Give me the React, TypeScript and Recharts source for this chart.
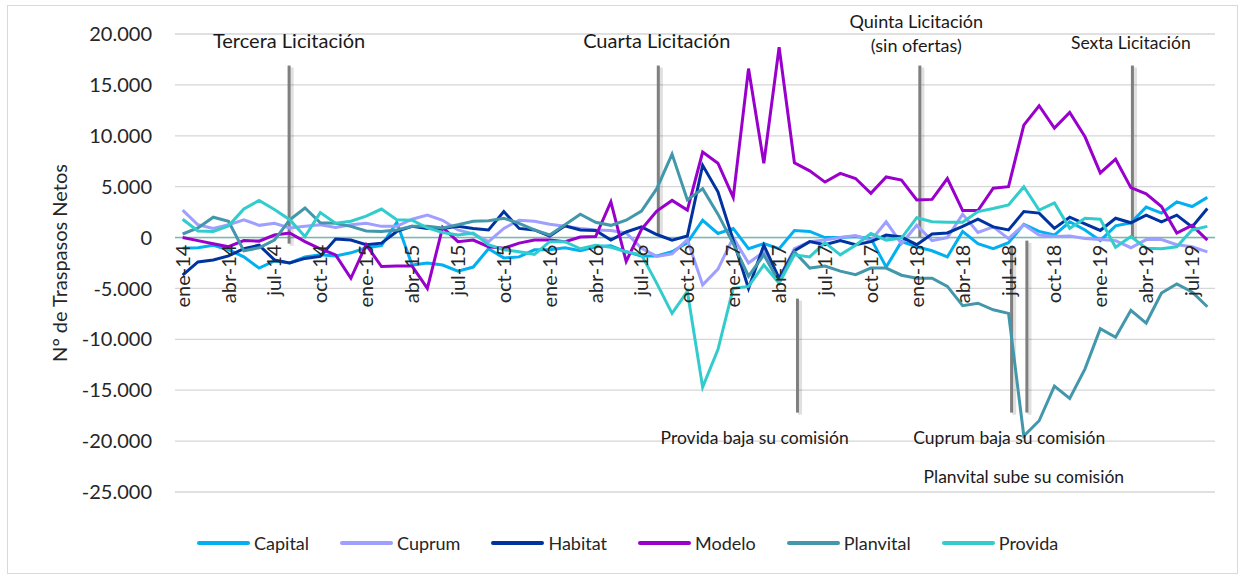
import React from "react";
import {
  LineChart,
  Line,
  XAxis,
  YAxis,
  CartesianGrid,
  ReferenceLine,
  ReferenceDot,
  Legend,
} from "recharts";

const CATEGORIES = [
  "ene-14", "feb-14", "mar-14", "abr-14", "may-14", "jun-14", "jul-14", "ago-14", "sep-14", "oct-14", "nov-14", "dic-14",
  "ene-15", "feb-15", "mar-15", "abr-15", "may-15", "jun-15", "jul-15", "ago-15", "sep-15", "oct-15", "nov-15", "dic-15",
  "ene-16", "feb-16", "mar-16", "abr-16", "may-16", "jun-16", "jul-16", "ago-16", "sep-16", "oct-16", "nov-16", "dic-16",
  "ene-17", "feb-17", "mar-17", "abr-17", "may-17", "jun-17", "jul-17", "ago-17", "sep-17", "oct-17", "nov-17", "dic-17",
  "ene-18", "feb-18", "mar-18", "abr-18", "may-18", "jun-18", "jul-18", "ago-18", "sep-18", "oct-18", "nov-18", "dic-18",
  "ene-19", "feb-19", "mar-19", "abr-19", "may-19", "jun-19", "jul-19", "ago-19",
];

const capital = [
  -1050, -1000, -750, -1200, -1900, -3000, -2300, -2500, -1900, -1700, -1800, -1500,
  -1000, -800, 1500, -2700, -2500, -2700, -3300, -2900, -1100, -2000, -1900, -1200,
  -1200, -1000, -1300, -900, -800, -1400, -1800, -1800, -1400, -500, 1700, 400,
  900, -1100, -600, -1100, 700, 600, 0, 0, 100, -100, -2900, -400,
  -900, -1300, -1900, 600, -600, -1100, -500, 1300, 600, 250, 1550, 750,
  -300, 1150, 1450, 3000, 2400, 3500, 3050, 3950,
];

const cuprum = [
  2700, 1250, 900, 1250, 1750, 1200, 1400, 950, 1100, 1250, 1000, 1250,
  1400, 1100, 1100, 1800, 2200, 1700, 750, 350, -400, 900, 1700, 1600,
  1300, 1100, 900, 750, 700, 450, -1050, -1850, -1600, -200, -4650, -3100,
  0, -2500, -1400, -4000, -1100, -400, -250, 0, 200, -300, 1550, -600,
  1200, -300, 0, 2300, 500, 1050, -100, 1250, 250, 100, 150, -100,
  -200, -300, -1000, -200, -200, -700, -900, -1400,
];

const habitat = [
  -3700, -2400, -2200, -1800, -1100, -750, -2200, -2500, -2050, -1850, -150, -250,
  -700, -550, 600, 1100, 900, 900, 1100, 900, 750, 2550, 900, 750,
  150, 1150, 750, 700, -250, 550, 1050, 300, -250, 150, 7100, 4500,
  -250, -5000, -750, -4000, -1300, -400, -700, -300, -700, -400, 250, 50,
  -700, 350, 450, 1100, 1800, 1050, 750, 2550, 2400, 900, 2000, 1350,
  700, 1900, 1450, 2200, 1550, 2200, 1050, 2850,
];

const modelo = [
  0, -300, -600, -900, -300, -350, 250, 450, -400, -1100, -1700, -4000,
  -700, -2850, -2800, -2800, -5000, 1000, -400, -250, -900, -1050, -550, -250,
  -250, -400, 50, 100, 3500, -2350, 800, 2600, 3650, 2700, 8400, 7300,
  3950, 16600, 7300, 18700, 7350, 6550, 5450, 6300, 5800, 4350, 5950, 5650,
  3700, 3750, 5800, 2650, 2650, 4850, 5000, 11050, 12950, 10750, 12300, 9900,
  6350, 7700, 4900, 4300, 3050, 450, 1200, -250,
];

const planvital = [
  350, 950, 2000, 1600, -1300, -1000, -250, 1750, 2900, 1450, 1400, 1100,
  650, 600, 750, 1100, 1100, 950, 1250, 1600, 1650, 1900, 1400, 750,
  250, 1250, 2300, 1500, 1200, 1700, 2600, 4800, 8200, 3700, 4800, 2300,
  -600, -3800, -1700, -4400, -1400, -3000, -2800, -3300, -3650, -3000, -3000, -3700,
  -4000, -4000, -4800, -6700, -6450, -7100, -7450, -19500, -18000, -14600, -15800, -12900,
  -8950, -9800, -7150, -8400, -5450, -4550, -5350, -6800,
];

const provida = [
  1800, 650, 600, 1150, 2800, 3650, 2750, 1750, 100, 2450, 1400, 1600,
  2100, 2800, 1750, 1700, 950, 500, 250, 450, -700, -1200, -1400, -1650,
  -400, -400, -1100, -750, -950, -1400, -1700, -4500, -7450, -5300, -14700, -11000,
  -5000, -4800, -2700, -4500, -1700, -1900, -500, -1700, -750, 400, -250, -50,
  1950, 1550, 1500, 1500, 2550, 2850, 3200, 5000, 2700, 3400, 900, 1900,
  1800, -950, 100, -1050, -1100, -900, 750, 1100,
];

const Y_TICKS = [20000, 15000, 10000, 5000, 0, -5000, -10000, -15000, -20000, -25000];
const Y_MIN = -25000;
const Y_MAX = 20000;

const SERIES = [
  { key: "capital", name: "Capital", color: "#00b0f0" },
  { key: "cuprum", name: "Cuprum", color: "#9f9fff" },
  { key: "habitat", name: "Habitat", color: "#0033a0" },
  { key: "modelo", name: "Modelo", color: "#9900cc" },
  { key: "planvital", name: "Planvital", color: "#4397aa" },
  { key: "provida", name: "Provida", color: "#33cccc" },
];

// event annotations (x in month index, y in chart units)
const MARKERS = [
  { x: 6.96, y1: 16900, y2: -600 },
  { x: 31.1, y1: 16900, y2: 300 },
  { x: 48.2, y1: 16900, y2: 0 },
  { x: 62.1, y1: 16900, y2: 0 },
  { x: 40.2, y1: -6000, y2: -17200 },
  { x: 54.2, y1: -800, y2: -17200 },
  { x: 55.2, y1: -300, y2: -17200 },
];

const NOTES = [
  { text: "Tercera Licitación", x: 6.96, y: 19300, size: 20 },
  { text: "Cuarta Licitación", x: 31.0, y: 19300, size: 20 },
  { text: "Quinta Licitación", x: 47.97, y: 21250, size: 18 },
  { text: "(sin ofertas)", x: 47.97, y: 18900, size: 18 },
  { text: "Sexta Licitación", x: 62.0, y: 19100, size: 17.5 },
  { text: "Provida baja su comisión", x: 37.4, y: -19650, size: 17.5 },
  { text: "Cuprum baja su comisión", x: 54.05, y: -19650, size: 17.5 },
  { text: "Planvital sube su comisión", x: 55.0, y: -23500, size: 17.5 },
];

const data = CATEGORIES.map((c, i) => ({
  i,
  label: c,
  capital: capital[i],
  cuprum: cuprum[i],
  habitat: habitat[i],
  modelo: modelo[i],
  planvital: planvital[i],
  provida: provida[i],
}));

const X_TICKS = CATEGORIES.map((_, i) => i).filter((i) => i % 3 === 0);

const FONT = "Lato, 'Open Sans', sans-serif";
const W = 1241;
const H = 577;
const PLOT_TOP = 34;
const PLOT_BOTTOM = 492;
const ZERO_Y = PLOT_TOP + (Y_MAX / (Y_MAX - Y_MIN)) * (PLOT_BOTTOM - PLOT_TOP);

const fmt = (v: number) => {
  const s = Math.abs(v).toString().replace(/\B(?=(\d{3})+(?!\d))/g, ".");
  return v < 0 ? `-${s}` : s;
};

const XTick = (props: any) => {
  const { x, payload } = props;
  const y = ZERO_Y + 7;
  return (
    <text
      x={x}
      y={y}
      transform={`rotate(-90 ${x} ${y})`}
      textAnchor="end"
      dy="0.35em"
      fontSize={20}
      fontFamily={FONT}
      fill="#262626"
    >
      {CATEGORIES[payload.value]}
    </text>
  );
};

const renderLegend = (props: any) => (
  <div style={{ display: "flex", gap: 31, paddingLeft: 197, fontFamily: FONT }}>
    {(props.payload || []).map((p: any) => (
      <div key={p.value} style={{ display: "flex", alignItems: "center" }}>
        <span
          style={{ display: "inline-block", width: 53, height: 4, background: p.color, borderRadius: 2, marginRight: 4 }}
        />
        <span style={{ fontSize: 18, color: "#262626" }}>{p.value}</span>
      </div>
    ))}
  </div>
);

export default function App() {
  return (
    <div style={{ position: "absolute", left: 0, top: 0, width: W, height: H, background: "#fff" }}>
      <div
        style={{
          position: "absolute",
          left: 7,
          top: 5,
          width: 1229,
          height: 567,
          border: "1px solid #d9d9d9",
        }}
      />
      <LineChart width={W} height={H} data={data} margin={{ top: PLOT_TOP, right: 26, bottom: H - PLOT_BOTTOM - 30, left: 0 }}>
        <CartesianGrid vertical={false} stroke="#d6d6d6" strokeWidth={1.3} />
        <XAxis
          dataKey="i"
          type="number"
          domain={[-0.5, CATEGORIES.length - 0.5]}
          ticks={X_TICKS}
          interval={0}
          tick={<XTick />}
          axisLine={false}
          tickLine={false}
          height={30}
        />
        <YAxis
          type="number"
          domain={[Y_MIN, Y_MAX]}
          ticks={Y_TICKS}
          interval={0}
          width={175}
          axisLine={false}
          tickLine={false}
          tickSize={0}
          tickMargin={23}
          tickFormatter={fmt}
          tick={{ fontSize: 20, fill: "#262626", fontFamily: FONT }}
          label={{
            value: "N° de Traspasos Netos",
            angle: -90,
            position: "insideLeft",
            offset: 60,
            style: { textAnchor: "middle", fontSize: 20, fill: "#262626", fontFamily: FONT },
          }}
        />
        <ReferenceLine y={0} stroke="#6fbdb3" strokeWidth={1.5} />
        {/* soft shadow behind the event lines */}
        {MARKERS.map((m, k) => (
          <ReferenceLine
            key={`s${k}`}
            segment={[
              { x: m.x + 0.17, y: m.y1 - 200 },
              { x: m.x + 0.17, y: m.y2 - 200 },
            ]}
            stroke="#000"
            strokeOpacity={0.12}
            strokeWidth={4}
            ifOverflow="visible"
          />
        ))}
        {MARKERS.map((m, k) => (
          <ReferenceLine
            key={`m${k}`}
            segment={[
              { x: m.x, y: m.y1 },
              { x: m.x, y: m.y2 },
            ]}
            stroke="#7f7f7f"
            strokeWidth={3}
            ifOverflow="visible"
          />
        ))}
        {SERIES.map((s) => (
          <Line
            key={s.key}
            type="linear"
            dataKey={s.key}
            name={s.name}
            stroke={s.color}
            strokeWidth={3}
            dot={false}
            activeDot={false}
            isAnimationActive={false}
          />
        ))}
        {NOTES.map((n, k) => (
          <ReferenceDot
            key={`n${k}`}
            x={n.x}
            y={n.y}
            r={0}
            stroke="none"
            fill="none"
            ifOverflow="visible"
            label={{ value: n.text, position: "center", fontSize: n.size, fill: "#1a1a1a", fontFamily: FONT }}
          />
        ))}
        <Legend
          verticalAlign="middle"
          align="center"
          content={renderLegend}
          wrapperStyle={{ top: 532, left: 0, width: W }}
        />
      </LineChart>
    </div>
  );
}
